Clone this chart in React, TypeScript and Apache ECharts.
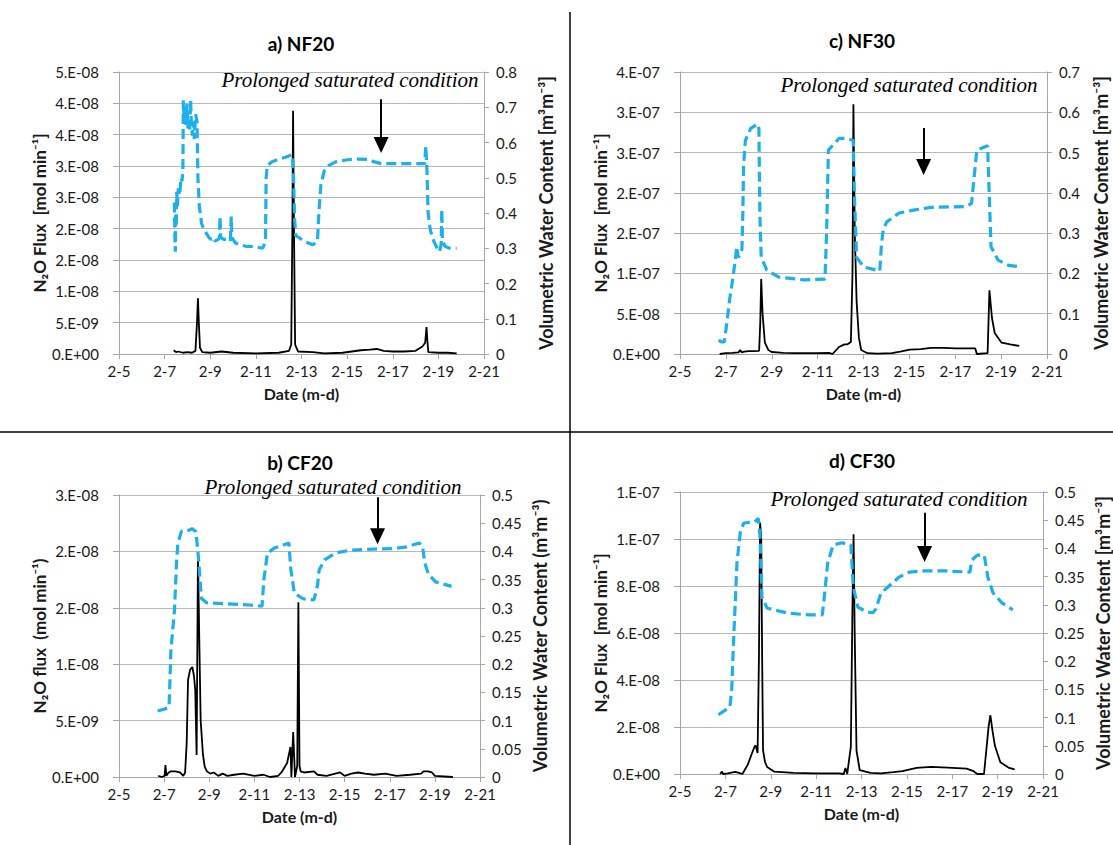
import React, { useEffect, useRef } from 'react';
import * as echarts from 'echarts';

// ---------- tick labels ----------
const xTickLabels = ['2-5', '2-7', '2-9', '2-11', '2-13', '2-15', '2-17', '2-19', '2-21'];
const nf20FluxTicks = ['0.E+00', '5.E-09', '1.E-08', '2.E-08', '2.E-08', '3.E-08', '3.E-08', '4.E-08', '4.E-08', '5.E-08'];
const nf30FluxTicks = ['0.E+00', '5.E-08', '1.E-07', '2.E-07', '2.E-07', '3.E-07', '3.E-07', '4.E-07'];
const cf20FluxTicks = ['0.E+00', '5.E-09', '1.E-08', '2.E-08', '2.E-08', '3.E-08'];
const cf30FluxTicks = ['0.E+00', '2.E-08', '4.E-08', '6.E-08', '8.E-08', '1.E-07', '1.E-07'];

// ---------- a) NF20 ----------
const nf20Flux = [
  [7.4, 6e-10], [7.5, 3e-10], [7.6, 4e-10], [7.8, 2e-10], [8.0, 3e-10], [8.2, 2e-10], [8.35, 5e-10],
  [8.42, 5e-9], [8.46, 8.9e-9], [8.5, 5e-9], [8.55, 1e-9], [8.65, 3e-10], [9.0, 2e-10], [9.5, 4e-10],
  [10, 2e-10], [11, 1e-10], [12, 2e-10], [12.45, 5e-10], [12.55, 1.5e-9], [12.6, 2e-8], [12.63, 3.88e-8],
  [12.67, 2e-8], [12.72, 1.5e-9], [12.85, 4e-10], [13.5, 3e-10], [14, 1e-10], [14.8, 2e-10], [15.2, 4e-10],
  [15.6, 6e-10], [16.0, 7e-10], [16.3, 8e-10], [16.6, 5e-10], [17.0, 4e-10], [17.5, 4e-10], [18.0, 5e-10],
  [18.3, 1.2e-9], [18.42, 1.8e-9], [18.48, 4.3e-9], [18.52, 2e-9], [18.56, 3e-10], [19, 2e-10], [19.4, 2e-10],
  [19.8, 1e-10],
];
const nf20Vwc = [
  [7.43, 0.43], [7.45, 0.33], [7.47, 0.29], [7.49, 0.40], [7.51, 0.36], [7.53, 0.46], [7.56, 0.42], [7.6, 0.47],
  [7.66, 0.45], [7.72, 0.50], [7.76, 0.49], [7.8, 0.52], [7.82, 0.72], [7.86, 0.66], [7.9, 0.70], [7.94, 0.65],
  [7.98, 0.71], [8.02, 0.64], [8.06, 0.67], [8.1, 0.63], [8.14, 0.72], [8.18, 0.64], [8.22, 0.62], [8.26, 0.66],
  [8.3, 0.61], [8.36, 0.68], [8.42, 0.66], [8.46, 0.50], [8.52, 0.42], [8.62, 0.37], [8.75, 0.35], [8.85, 0.34],
  [8.95, 0.33], [9.05, 0.325], [9.15, 0.33], [9.2, 0.32], [9.35, 0.325], [9.4, 0.33], [9.43, 0.39], [9.46, 0.33],
  [9.6, 0.325], [9.75, 0.325], [9.88, 0.32], [9.92, 0.39], [9.95, 0.33], [10.1, 0.315], [10.3, 0.31], [10.6, 0.305],
  [10.9, 0.305], [11.3, 0.30], [11.42, 0.32], [11.45, 0.50], [11.5, 0.535], [11.7, 0.545], [12.0, 0.553],
  [12.3, 0.558], [12.6, 0.566], [12.65, 0.50], [12.7, 0.38], [12.75, 0.335], [12.9, 0.33], [13.1, 0.32],
  [13.3, 0.315], [13.5, 0.31], [13.7, 0.32], [13.76, 0.40], [13.85, 0.48], [14.0, 0.52], [14.2, 0.535],
  [14.5, 0.545], [15.0, 0.551], [15.5, 0.553], [15.9, 0.552], [16.2, 0.545], [16.5, 0.54], [17.0, 0.54],
  [17.5, 0.54], [18.0, 0.54], [18.4, 0.54], [18.45, 0.59], [18.5, 0.52], [18.55, 0.40], [18.65, 0.35],
  [18.8, 0.32], [18.95, 0.30], [19.05, 0.29], [19.12, 0.31], [19.15, 0.41], [19.18, 0.32], [19.3, 0.305],
  [19.5, 0.30], [19.8, 0.30],
];

// ---------- c) NF30 ----------
const nf30Flux = [
  [6.73, 0], [7.0, 1e-9], [7.3, 1.5e-9], [7.55, 2e-9], [7.62, 5e-9], [7.7, 2e-9], [7.8, 3e-9], [8.0, 3.5e-9],
  [8.2, 3.5e-9], [8.45, 4e-9], [8.5, 4e-8], [8.54, 9.3e-8], [8.6, 5e-8], [8.7, 1.4e-8], [8.85, 5e-9], [9.0, 2.5e-9],
  [9.5, 1.5e-9], [10, 1e-9], [11, 1e-9], [11.5, 1.5e-9], [11.65, 0], [11.93, 8.7e-9], [12.17, 1.2e-8],
  [12.3, 1.2e-8], [12.45, 1.5e-8], [12.52, 1e-7], [12.56, 3.1e-7], [12.62, 1.5e-7], [12.7, 6.5e-8], [12.8, 2e-8],
  [12.9, 5e-9], [13.17, 1e-9], [13.6, 5e-10], [14.24, 1e-9], [14.6, 3e-9], [15.02, 5.5e-9], [15.5, 6e-9],
  [15.94, 7.5e-9], [16.5, 7.5e-9], [17.0, 7e-9], [17.5, 7e-9], [17.87, 7e-9], [17.94, 0], [18.41, 1e-9],
  [18.45, 4e-8], [18.49, 7.9e-8], [18.6, 4.5e-8], [18.72, 2.6e-8], [19.02, 1.4e-8], [19.4, 1.2e-8], [19.79, 1.0e-8],
];
const nf30Vwc = [
  [6.69, 0.035], [6.8, 0.03], [6.93, 0.03], [7.05, 0.08], [7.16, 0.134], [7.31, 0.19], [7.42, 0.238], [7.47, 0.266],
  [7.54, 0.24], [7.65, 0.25], [7.7, 0.26], [7.74, 0.35], [7.77, 0.465], [7.85, 0.53], [8.08, 0.56], [8.39, 0.571],
  [8.44, 0.56], [8.48, 0.35], [8.54, 0.241], [8.78, 0.208], [9.31, 0.191], [10.39, 0.184], [11.32, 0.186],
  [11.39, 0.3], [11.47, 0.506], [11.93, 0.535], [12.3, 0.535], [12.55, 0.53], [12.6, 0.4], [12.7, 0.24],
  [13.01, 0.216], [13.71, 0.206], [13.78, 0.27], [13.86, 0.308], [14.01, 0.328], [14.24, 0.337], [14.55, 0.35],
  [15.17, 0.357], [15.94, 0.364], [16.7, 0.365], [17.48, 0.366], [17.71, 0.374], [17.79, 0.42], [17.94, 0.506],
  [18.41, 0.517], [18.45, 0.45], [18.56, 0.266], [18.87, 0.233], [19.33, 0.22], [19.87, 0.216],
];

// ---------- b) CF20 ----------
const cf20Flux = [
  [6.74, 1e-10], [6.9, 0], [7.02, 1e-10], [7.06, 1.06e-9], [7.1, 1e-10], [7.2, 4e-10], [7.3, 5e-10], [7.5, 5e-10],
  [7.7, 4e-10], [7.85, 1e-10], [7.93, 4e-10], [8.0, 3e-9], [8.06, 8.6e-9], [8.15, 9.5e-9], [8.25, 9.75e-9],
  [8.32, 9e-9], [8.38, 7.7e-9], [8.44, 1.95e-9], [8.5, 1.97e-8], [8.56, 1.2e-8], [8.62, 5e-9], [8.72, 2e-9],
  [8.8, 8.9e-10], [8.9, 5e-10], [9.04, 3e-10], [9.2, 4e-10], [9.4, 1e-10], [9.6, 3e-10], [9.8, 1e-10],
  [10.1, 2e-10], [10.5, 3e-10], [11.0, 1e-10], [11.4, 2e-10], [11.7, 0], [12.05, 1e-10], [12.2, 4e-10],
  [12.45, 1.24e-9], [12.6, 2.66e-9], [12.64, 0], [12.72, 3.99e-9], [12.8, 0], [12.9, 1e-9], [12.95, 1.55e-8],
  [13.0, 1e-9], [13.05, 5e-10], [13.2, 4e-10], [13.64, 5e-10], [13.8, 2e-10], [14.2, 1e-10], [14.8, 4e-10],
  [15.0, 1e-10], [15.3, 3e-10], [15.6, 4e-10], [15.9, 3e-10], [16.3, 2e-10], [16.8, 3e-10], [17.3, 1e-10],
  [17.9, 2e-10], [18.39, 3e-10], [18.5, 5e-10], [18.7, 5e-10], [18.87, 4e-10], [19.0, 1e-10], [19.8, 0],
];
const cf20Vwc = [
  [6.71, 0.117], [7.0, 0.12], [7.22, 0.124], [7.30, 0.225], [7.46, 0.296], [7.55, 0.38], [7.61, 0.415],
  [7.77, 0.436], [8.0, 0.436], [8.25, 0.44], [8.41, 0.435], [8.52, 0.39], [8.65, 0.317], [8.88, 0.309],
  [9.83, 0.307], [10.78, 0.305], [11.34, 0.303], [11.42, 0.35], [11.58, 0.397], [11.89, 0.406], [12.2, 0.41],
  [12.53, 0.415], [12.61, 0.37], [12.77, 0.326], [13.16, 0.316], [13.64, 0.314], [13.80, 0.34], [13.87, 0.367],
  [14.11, 0.385], [14.59, 0.397], [15.22, 0.402], [16.2, 0.404], [17.12, 0.405], [17.76, 0.408], [18.31, 0.415],
  [18.45, 0.41], [18.55, 0.38], [18.71, 0.36], [19.03, 0.346], [19.74, 0.338],
];

// ---------- d) CF30 ----------
const cf30Flux = [
  [6.77, 0], [6.85, 1e-9], [6.9, 0], [7.1, 3e-10], [7.43, 9e-10], [7.6, 5e-10], [7.75, 0], [7.98, 3.8e-9],
  [8.14, 8e-9], [8.3, 1.2e-8], [8.34, 1.2e-8], [8.42, 8.9e-9], [8.48, 5e-8], [8.53, 1.07e-7], [8.58, 1.0e-7],
  [8.62, 5e-8], [8.66, 1e-8], [8.75, 5e-9], [8.84, 3e-9], [9.16, 1e-9], [10, 5e-10], [11, 3e-10], [12.0, 3e-10],
  [12.22, 0], [12.29, 2.6e-9], [12.37, 0], [12.48, 8e-9], [12.53, 1.15e-8], [12.6, 7e-8], [12.65, 1.02e-7],
  [12.7, 6e-8], [12.78, 1e-8], [12.92, 1.7e-9], [13.4, 5e-10], [13.86, 3e-10], [14.4, 8e-10], [14.8, 1.2e-9],
  [15.43, 2.6e-9], [16.06, 3.0e-9], [16.8, 2.7e-9], [17.63, 2.3e-9], [17.94, 1.2e-9], [18.1, 0], [18.4, 0],
  [18.49, 9e-9], [18.6, 2e-8], [18.68, 2.5e-8], [18.78, 1.8e-8], [18.88, 1.2e-8], [19.12, 5e-9], [19.51, 2.6e-9],
  [19.75, 2e-9],
];
const cf30Vwc = [
  [6.69, 0.105], [6.95, 0.112], [7.20, 0.119], [7.28, 0.15], [7.35, 0.225], [7.51, 0.374], [7.67, 0.433],
  [7.82, 0.445], [8.29, 0.447], [8.45, 0.453], [8.53, 0.42], [8.61, 0.314], [8.84, 0.294], [9.78, 0.285],
  [10.73, 0.282], [11.27, 0.282], [11.35, 0.31], [11.51, 0.374], [11.75, 0.406], [12.14, 0.41], [12.53, 0.406],
  [12.64, 0.331], [12.84, 0.296], [13.24, 0.287], [13.5, 0.286], [13.63, 0.292], [13.86, 0.321], [14.18, 0.332],
  [14.65, 0.349], [15.12, 0.358], [15.75, 0.36], [16.7, 0.36], [17.78, 0.358], [17.86, 0.379], [18.10, 0.388],
  [18.41, 0.388], [18.57, 0.349], [18.80, 0.321], [19.20, 0.303], [19.67, 0.291],
];

// arrows (day, vwc start, vwc end) on each panel's water-content axis
const arrowNF20 = [16.49, 0.723, 0.593];
const arrowNF30 = [15.62, 0.561, 0.464];
const arrowCF20 = [16.46, 0.496, 0.427];
const arrowCF30 = [15.78, 0.463, 0.39];

const FONT = 'Lato, "DejaVu Sans", sans-serif';
const NOTE = 'Prolonged saturated condition';

const panels = [
  {
    title: 'a) NF20', titleXY: [301, 43], noteXY: [350, 80],
    grid: { left: 119, top: 72, width: 365, height: 282 },
    flux: nf20Flux, vwc: nf20Vwc, fluxMax: 4.5e-8, fluxStep: 5e-9, fluxTicks: nf20FluxTicks,
    vwcMax: 0.8, vwcStep: 0.1, arrow: arrowNF20,
    fluxName: 'N₂O Flux  [mol min⁻¹]', vwcName: 'Volumetric Water Content [m³m⁻³]', leftGap: 67, rightGap: 53,
  },
  {
    title: 'c) NF30', titleXY: [862, 40], noteXY: [909, 85],
    grid: { left: 680, top: 72, width: 367, height: 282 },
    flux: nf30Flux, vwc: nf30Vwc, fluxMax: 3.5e-7, fluxStep: 5e-8, fluxTicks: nf30FluxTicks,
    vwcMax: 0.7, vwcStep: 0.1, arrow: arrowNF30,
    fluxName: 'N₂O Flux  [mol min⁻¹]', vwcName: 'Volumetric Water Content [m³m⁻³]', leftGap: 68, rightGap: 45,
  },
  {
    title: 'b) CF20', titleXY: [300, 462], noteXY: [333, 487],
    grid: { left: 119, top: 495, width: 361, height: 282 },
    flux: cf20Flux, vwc: cf20Vwc, fluxMax: 2.5e-8, fluxStep: 5e-9, fluxTicks: cf20FluxTicks,
    vwcMax: 0.5, vwcStep: 0.05, arrow: arrowCF20,
    fluxName: 'N₂O flux  (mol min⁻¹)', vwcName: 'Volumetric Water Content (m³m⁻³)', leftGap: 69, rightGap: 51,
  },
  {
    title: 'd) CF30', titleXY: [862, 460], noteXY: [899, 499],
    grid: { left: 680, top: 492, width: 364, height: 282 },
    flux: cf30Flux, vwc: cf30Vwc, fluxMax: 1.2e-7, fluxStep: 2e-8, fluxTicks: cf30FluxTicks,
    vwcMax: 0.5, vwcStep: 0.05, arrow: arrowCF30,
    fluxName: 'N₂O Flux  [mol min⁻¹]', vwcName: 'Volumetric Water Content [m³m⁻³]', leftGap: 71, rightGap: 51,
  },
];

function buildOption() {
  const grid: any[] = [];
  const xAxis: any[] = [];
  const yAxis: any[] = [];
  const series: any[] = [];
  const graphic: any[] = [];
  const axisGray = '#a6a6a6';
  const labelColor = '#1a1a1a';

  panels.forEach((p, i) => {
    grid.push({ ...p.grid, containLabel: false });
    xAxis.push({
      type: 'value', gridIndex: i, min: 5, max: 21, interval: 2,
      axisLine: { show: true, onZero: false, lineStyle: { color: axisGray, width: 1 } },
      axisTick: { show: true, length: 5, lineStyle: { color: axisGray } },
      splitLine: { show: false },
      axisLabel: {
        formatter: (v: number) => xTickLabels[Math.round((v - 5) / 2)],
        fontSize: 15, color: labelColor, margin: 9, fontFamily: FONT,
      },
      name: 'Date (m-d)', nameLocation: 'middle', nameGap: 31,
      nameTextStyle: { fontWeight: 'bold', fontSize: 16, color: labelColor, fontFamily: FONT },
    });
    yAxis.push({
      type: 'value', gridIndex: i, position: 'left', min: 0, max: p.fluxMax, interval: p.fluxStep,
      axisLine: { show: true, lineStyle: { color: axisGray } },
      axisTick: { show: true, length: 6, lineStyle: { color: axisGray } },
      splitLine: { show: true, lineStyle: { color: '#b8b8b8', width: 1 } },
      axisLabel: {
        formatter: (v: number) => p.fluxTicks[Math.round(v / p.fluxStep)],
        fontSize: 15, color: labelColor, margin: 20, fontFamily: FONT,
      },
      name: p.fluxName, nameLocation: 'middle', nameGap: p.leftGap,
      nameTextStyle: { fontWeight: 'bold', fontSize: 17, color: labelColor, fontFamily: FONT },
    });
    yAxis.push({
      type: 'value', gridIndex: i, position: 'right', min: 0, max: p.vwcMax, interval: p.vwcStep,
      axisLine: { show: true, lineStyle: { color: axisGray } },
      axisTick: { show: true, length: 5, lineStyle: { color: axisGray } },
      splitLine: { show: false },
      axisLabel: { fontSize: 15, color: labelColor, margin: 12, fontFamily: FONT },
      name: p.vwcName, nameLocation: 'middle', nameGap: p.rightGap,
      nameTextStyle: { fontWeight: 'bold', fontSize: 18, color: labelColor, fontFamily: FONT },
    });
    series.push({
      type: 'line', xAxisIndex: i, yAxisIndex: 2 * i, data: p.flux, symbol: 'none', showSymbol: false,
      lineStyle: { color: '#000000', width: 1.8 }, z: 2,
    });
    series.push({
      type: 'line', xAxisIndex: i, yAxisIndex: 2 * i + 1, data: p.vwc, symbol: 'none', showSymbol: false,
      lineStyle: { color: '#1cb0ec', width: 3.2, type: [10, 5] }, z: 3,
      markLine: {
        silent: true, symbol: ['none', 'triangle'], symbolSize: [15, 16],
        lineStyle: { color: '#000000', width: 2, type: 'solid' }, label: { show: false },
        data: [[{ coord: [p.arrow[0], p.arrow[1]] }, { coord: [p.arrow[0], p.arrow[2]] }]],
      },
    });
    graphic.push({
      type: 'text', x: p.titleXY[0], y: p.titleXY[1],
      style: {
        text: p.title, fill: '#000', font: `bold 19px ${FONT}`,
        textAlign: 'center', textVerticalAlign: 'middle', align: 'center', verticalAlign: 'middle',
      },
    });
    graphic.push({
      type: 'text', x: p.noteXY[0], y: p.noteXY[1], z: 10,
      style: {
        text: NOTE, fill: '#000', font: `italic 21px "Liberation Serif", "Times New Roman", serif`,
        textAlign: 'center', textVerticalAlign: 'middle', align: 'center', verticalAlign: 'middle',
      },
    });
  });

  graphic.push({
    type: 'line', shape: { x1: 570, y1: 12, x2: 570, y2: 845 },
    style: { stroke: '#000', lineWidth: 1.5 },
  });
  graphic.push({
    type: 'line', shape: { x1: 0, y1: 432, x2: 1113, y2: 432 },
    style: { stroke: '#000', lineWidth: 1.5 },
  });

  return { animation: false, backgroundColor: '#ffffff', grid, xAxis, yAxis, series, graphic };
}

export default function App() {
  const ref = useRef<HTMLDivElement>(null);
  useEffect(() => {
    if (!ref.current) return;
    const chart = echarts.init(ref.current, undefined, { renderer: 'svg', width: 1113, height: 845 });
    chart.setOption(buildOption() as any);
    return () => chart.dispose();
  }, []);
  return (
    <div
      ref={ref}
      style={{ position: 'fixed', left: 0, top: 0, width: 1113, height: 845, background: '#fff' }}
    />
  );
}
